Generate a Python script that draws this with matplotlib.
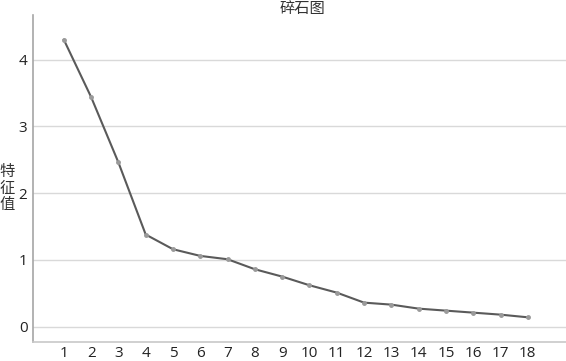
import matplotlib
matplotlib.use('Agg')
import matplotlib.pyplot as plt

# scree plot data
components = list(range(1, 19))
eigenvalues = [4.30, 3.44, 2.46, 1.38, 1.16, 1.06, 1.01, 0.86, 0.75, 0.62,
               0.51, 0.36, 0.33, 0.27, 0.24, 0.21, 0.18, 0.14]
y_ticks = [0, 1, 2, 3, 4]

plt.rcParams['font.family'] = ['Open Sans', 'Noto Sans CJK SC', 'DejaVu Sans']

fig = plt.figure(figsize=(5.66, 3.61), dpi=100)
ax = fig.add_axes([33 / 566, 19 / 361, 1 - 33 / 566, (342 - 15) / 361])

ax.plot(components, eigenvalues, color='#5a5a5a', linewidth=1.5,
        marker='o', markersize=2.5, markerfacecolor='#9a9a9a', markeredgecolor='#9a9a9a')

ax.set_xlim(-0.13, 19.4)
ax.set_ylim(-0.23, 4.67)
ax.set_xticks(components)
ax.set_yticks(y_ticks)
ax.tick_params(length=0, labelsize=11, colors='#222222')
ax.tick_params(axis='x', pad=3)
ax.tick_params(axis='y', pad=4)
ax.grid(axis='y', color='#d9d9d9', linewidth=1)
ax.set_axisbelow(True)

for s in ['top', 'right']:
    ax.spines[s].set_visible(False)
ax.spines['left'].set_color('#a6a6a6')
ax.spines['bottom'].set_color('#c8c8c8')
ax.spines['left'].set_linewidth(1.2)
ax.spines['bottom'].set_linewidth(1.2)

fig.text(302 / 566, 1 - 8 / 361, '碎石图', ha='center', va='center',
         fontsize=11, family=['Noto Sans CJK SC'], color='#333333')
fig.text(7 / 566, 1 - 188 / 361, '特\n征\n值', ha='center', va='center',
         fontsize=11, family=['Noto Sans CJK SC'], color='#333333', linespacing=0.95)

fig.savefig('out.png', dpi=100)
